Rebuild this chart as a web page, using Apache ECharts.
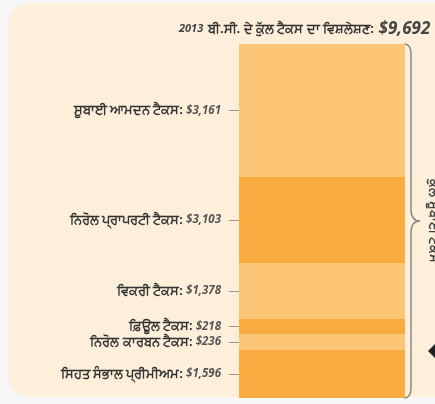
<!DOCTYPE html>
<html>
<head>
<meta charset="utf-8">
<script src="https://cdn.jsdelivr.net/npm/echarts@6/dist/echarts.min.js"></script>
<style>
  html, body { margin: 0; padding: 0; background: #f7f7f7; }
  #chart { width: 435px; height: 404px; }
</style>
</head>
<body>
<div id="chart"></div>
<script>
// bottom-to-top stacking order
const taxNames = [
  "ਸਿਹਤ ਸੰਭਾਲ ਪ੍ਰੀਮੀਅਮ",
  "ਨਿਰੋਲ ਕਾਰਬਨ ਟੈਕਸ",
  "ਫ਼ਿਊਲ ਟੈਕਸ",
  "ਵਿਕਰੀ ਟੈਕਸ",
  "ਨਿਰੋਲ ਪ੍ਰਾਪਰਟੀ ਟੈਕਸ",
  "ਸੂਬਾਈ ਆਮਦਨ ਟੈਕਸ",
];
const taxAmounts = [1596, 236, 218, 1378, 3103, 3161];
// segment sizes as drawn in the picture (same $ scale, total 9,692)
const drawnSizes = [1314, 438, 411, 1533, 2355, 3641];
const segColors = ["#f9ad41", "#fdc677", "#f9ad41", "#fdc677", "#f9ad41", "#fdc677"];
const total = 9692;
const titleYear = "2013";
const titleText = "ਬੀ.ਸੀ. ਦੇ ਕੁੱਲ ਟੈਕਸ ਦਾ ਵਿਸ਼ਲੇਸ਼ਣ:";
const braceText = "ਕੁੱਲ ਸੂਬਾਈ ਟੈਕਸ";

const fmt = (v) => "$" + v.toLocaleString("en-US");

// label positions at each segment's middle
const mids = [];
let acc = 0;
drawnSizes.forEach((s) => {
  mids.push(acc + s / 2);
  acc += s;
});

const chart = echarts.init(document.getElementById("chart"));

const series = taxNames.map((name, i) => ({
  name: name,
  type: "bar",
  stack: "total",
  barWidth: "100%",
  itemStyle: { color: segColors[i] },
  emphasis: { disabled: true },
  data: [drawnSizes[i]],
}));

chart.setOption({
  backgroundColor: "#f7f7f7",
  animation: false,
  textStyle: { fontFamily: "'Open Sans', 'Noto Sans', sans-serif" },
  title: {
    left: 174,
    top: 15,
    text: "{yr|" + titleYear + "} {t|" + titleText + "} {tot|" + fmt(total) + "}",
    textStyle: {
      rich: {
        yr: { fontSize: 11, fontStyle: "italic", fontWeight: "bold", color: "#444" },
        t: { fontSize: 13, fontWeight: "bold", color: "#333" },
        tot: { fontSize: 17, fontStyle: "italic", fontWeight: "bold", color: "#444" },
      },
    },
  },
  grid: { left: 239, right: 30, top: 44, bottom: 6 },
  xAxis: {
    type: "category",
    data: [""],
    show: false,
  },
  yAxis: {
    type: "value",
    min: 0,
    max: total,
    splitLine: { show: false },
    axisLine: { show: false },
    axisTick: {
      show: true,
      length: 10,
      customValues: mids,
      lineStyle: { color: "#999", width: 1 },
    },
    axisLabel: {
      margin: 18,
      customValues: mids,
      formatter: (val) => {
        let k = 0;
        mids.forEach((m, i) => {
          if (Math.abs(m - val) < Math.abs(mids[k] - val)) k = i;
        });
        return "{n|" + taxNames[k] + ":} {a|" + fmt(taxAmounts[k]) + "}";
      },
      rich: {
        n: { fontSize: 12.5, fontWeight: "bold", color: "#333" },
        a: { fontSize: 11.5, fontStyle: "italic", fontWeight: "bold", color: "#555" },
      },
    },
  },
  series: series,
});

// panel, brace and side decoration placed from the chart's own scale
const yTop = chart.convertToPixel({ yAxisIndex: 0 }, total);
const yBot = chart.convertToPixel({ yAxisIndex: 0 }, 0);
const yMid = (yTop + yBot) / 2;
const x0 = 404;
const x1 = 411;
const x2 = 420;
const braceStyle = { stroke: "#8a8a8a", lineWidth: 1.5, fill: null };

function curve(ax, ay, cx, cy, bx, by) {
  return {
    type: "bezierCurve",
    silent: true,
    shape: { x1: ax, y1: ay, cpx1: cx, cpy1: cy, x2: bx, y2: by },
    style: braceStyle,
  };
}
function seg(ax, ay, bx, by) {
  return {
    type: "line",
    silent: true,
    shape: { x1: ax, y1: ay, x2: bx, y2: by },
    style: braceStyle,
  };
}

chart.setOption({
  graphic: [
    {
      type: "rect",
      z: -10,
      silent: true,
      shape: { x: 8, y: 3, width: 480, height: 394, r: 22 },
      style: { fill: "#fdefd9" },
    },
    curve(x0, yTop, x1, yTop, x1, yTop + 10),
    seg(x1, yTop + 10, x1, yMid - 12),
    curve(x1, yMid - 12, x1, yMid, x2, yMid),
    curve(x1, yMid + 12, x1, yMid, x2, yMid),
    seg(x1, yMid + 12, x1, yBot - 10),
    curve(x1, yBot - 10, x1, yBot, x0, yBot),
    {
      type: "text",
      silent: true,
      x: 434,
      y: yMid,
      rotation: -Math.PI / 2,
      style: {
        text: braceText,
        fontSize: 13,
        fontWeight: "bold",
        fill: "#444",
        align: "center",
        verticalAlign: "middle",
      },
    },
    {
      type: "polygon",
      silent: true,
      shape: { points: [[428, 351], [440, 339], [452, 351], [440, 363]] },
      style: { fill: "#222" },
    },
  ],
});
</script>
</body>
</html>
